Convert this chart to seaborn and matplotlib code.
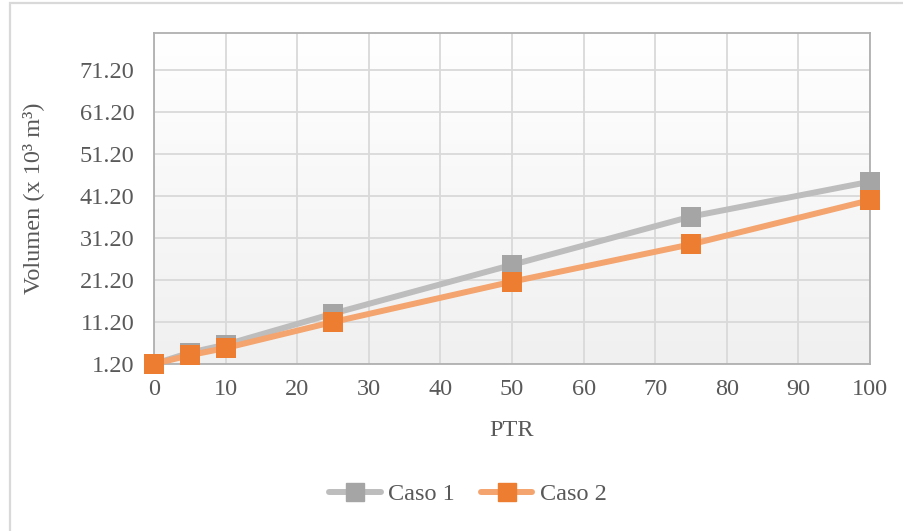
import numpy as np
import pandas as pd
import matplotlib
matplotlib.use("Agg")
import matplotlib.pyplot as plt
import seaborn as sns
from matplotlib.lines import Line2D
from matplotlib.patches import Rectangle
from matplotlib.colors import LinearSegmentedColormap

ptr = [0, 5, 10, 25, 50, 75, 100]
caso1 = [1.2, 3.9, 5.8, 13.2, 24.8, 36.3, 44.6]
caso2 = [1.2, 3.3, 5.0, 11.2, 20.8, 29.7, 40.2]
series_names = ["Caso 1", "Caso 2"]
y_ticks = [1.2, 11.2, 21.2, 31.2, 41.2, 51.2, 61.2, 71.2]
x_ticks = [0, 10, 20, 30, 40, 50, 60, 70, 80, 90, 100]

df = pd.DataFrame({"PTR": ptr * 2,
                   "Vol": caso1 + caso2,
                   "Serie": [series_names[0]] * len(ptr) + [series_names[1]] * len(ptr)})

sns.set_theme(style="white")
plt.rcParams["font.family"] = ["Liberation Serif", "DejaVu Serif"]

FS = 17.5
fig = plt.figure(figsize=(9.04, 5.31), dpi=100)
ax = fig.add_axes([154 / 904, 1 - 364 / 531, (870 - 154) / 904, (364 - 33) / 531])

# figure border
fig.patches.append(Rectangle((10 / 904, -0.05), 1.2, 1.05 - 3 / 531, transform=fig.transFigure,
                             fill=False, edgecolor="#d9d9d9", linewidth=1.6, zorder=0))

# gradient background in plot area
grad = np.linspace(0, 1, 256).reshape(-1, 1)
cm = LinearSegmentedColormap.from_list("g", ["#f0f0f0", "#ffffff"])
ax.imshow(grad, extent=[0, 100, 1.2, 80], origin="lower", aspect="auto", cmap=cm, zorder=0)

line_cols = {"Caso 1": "#bdbdbd", "Caso 2": "#f4a46e"}
mark_cols = {"Caso 1": "#a5a5a5", "Caso 2": "#ed7d31"}

for name in series_names:
    sub = df[df["Serie"] == name]
    sns.lineplot(data=sub, x="PTR", y="Vol", ax=ax, color=line_cols[name], linewidth=4.3,
                 zorder=3, legend=False)
    sns.scatterplot(data=sub, x="PTR", y="Vol", ax=ax, color=mark_cols[name], marker="s",
                    s=200, linewidth=0, zorder=4, legend=False, clip_on=False)

ax.set_xlim(0, 100)
ax.set_ylim(1.2, 80)
ax.set_xticks(x_ticks)
ax.set_yticks(y_ticks)
ax.set_yticklabels([f"{v:.2f}" for v in y_ticks])
ax.grid(True, color="#d9d9d9", linewidth=1.3, zorder=1)
ax.set_axisbelow(True)
for s in ax.spines.values():
    s.set_color("#b0b0b0")
    s.set_linewidth(1.3)
ax.tick_params(axis="y", length=0, labelsize=FS, labelcolor="#595959", pad=14)
ax.tick_params(axis="x", length=0, labelsize=FS, labelcolor="#595959", pad=11)
ax.set_xlabel("PTR", fontsize=FS, color="#595959")
ax.set_ylabel("Volumen (x 10³ m³)", fontsize=FS, color="#595959")
ax.xaxis.set_label_coords(0.5, -(430 - 364) / 331, transform=ax.transAxes)
ax.xaxis.label.set_va("center")
ax.yaxis.set_label_coords(-(154 - 33) / 716, 0.5, transform=ax.transAxes)
ax.yaxis.label.set_va("center")

handles = [Line2D([0], [0], color=line_cols[n], linewidth=4.3, marker="s", markersize=13,
                  markerfacecolor=mark_cols[n], markeredgecolor=mark_cols[n]) for n in series_names]
fig.legend(handles, series_names, loc="center", bbox_to_anchor=(468 / 904, 1 - 494 / 531),
           ncol=2, frameon=False, fontsize=FS, labelcolor="#595959", handlelength=2.1,
           columnspacing=1.1, handletextpad=0.3)

fig.savefig("out.png", dpi=100)
